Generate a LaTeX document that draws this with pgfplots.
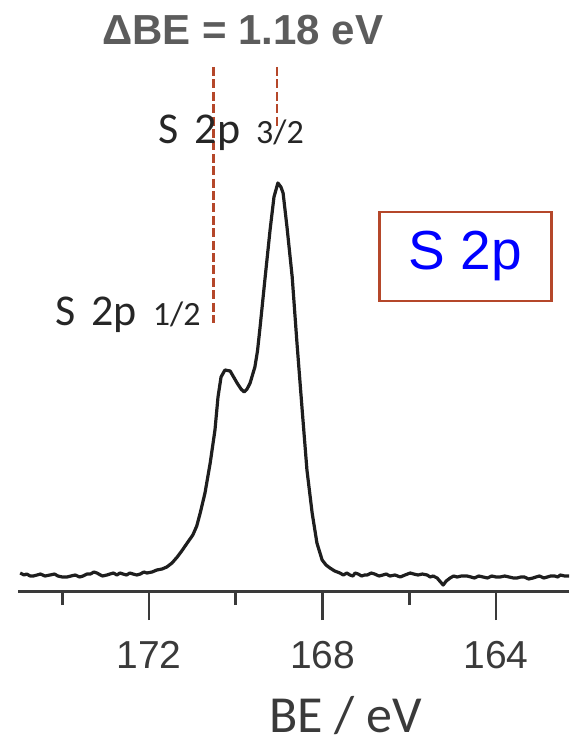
\documentclass[border=0pt]{standalone}
\usepackage{pgfplots}
\pgfplotsset{compat=1.18}
\usepackage{fontspec}
\setmainfont{Liberation Sans}
\newfontfamily\calibri{Carlito}

\definecolor{spectrum}{HTML}{1E1E1E}
\definecolor{axisgray}{HTML}{3A3A3A}
\definecolor{rust}{HTML}{B5472A}
\definecolor{deltagray}{HTML}{5C5C5C}

% S 2p spectrum: binding energy (eV) vs. intensity (a.u.)
\pgfplotstableread{
be      I
174.97  18
174.88  16
174.82  17
174.74  15
174.67  15
174.58  16
174.50  17
174.40  15
174.28  16
174.18  17
174.10  15
174.00  14
173.89  14
173.80  15
173.70  16
173.60  14
173.52  15
173.43  17
173.35  17
173.27  19
173.20  18
173.12  16
173.07  15
172.97  16
172.90  17
172.82  18
172.74  16
172.67  18
172.60  17
172.52  16
172.44  18
172.37  17
172.28  16
172.20  17
172.12  19
172.05  18
171.93  19
171.82  21
171.70  22
171.59  24
171.47  28
171.35  34
171.23  41
171.12  48
170.99  56
170.90  65
170.82  78
170.71  98
170.59  128
170.48  161
170.41  194
170.34  214
170.25  221
170.13  220
170.05  214
169.97  208
169.88  202
169.81  199
169.74  202
169.67  208
169.56  224
169.50  240
169.44  264
169.33  311
169.21  361
169.12  394
169.03  408
168.96  404
168.91  398
168.82  364
168.70  314
168.59  248
168.47  181
168.36  121
168.24  78
168.13  48
168.01  31
167.92  26
167.83  23
167.72  20
167.60  18
167.52  16
167.44  18
167.37  16
167.30  15
167.25  18
167.18  17
167.10  15
167.03  16
166.97  16
166.88  18
166.80  17
166.70  15
166.61  16
166.53  17
166.45  15
166.33  16
166.21  14
166.10  16
165.98  18
165.90  17
165.80  16
165.70  17
165.59  16
165.52  14
165.45  15
165.36  13
165.28  9
165.22  6
165.15  10
165.06  13
164.98  15
164.90  14
164.80  15
164.67  15
164.58  14
164.50  13
164.40  15
164.30  14
164.20  13
164.10  15
164.00  14
163.91  14
163.80  15
163.70  14
163.60  13
163.52  13
163.43  14
163.35  14
163.25  12
163.15  13
163.08  14
163.00  15
162.90  13
162.82  14
162.74  15
162.65  15
162.58  14
162.52  16
162.42  15
162.32  15
}\spectrum

\begin{document}
\begin{tikzpicture}
\begin{axis}[
  scale only axis,
  width=275.5pt, height=295.5pt,
  xmin=162.32, xmax=175.02,
  ymin=0, ymax=591,
  x dir=reverse,
  axis x line*=bottom,
  axis y line=none,
  axis line style={axisgray, line width=1.5pt},
  xtick={172,168,164},
  minor xtick={174,170,166},
  tick align=outside,
  major tick length=14.5pt,
  minor tick length=7pt,
  every tick/.style={axisgray, line width=1.3pt},
  xticklabel style={font=\fontsize{19.5}{20}\selectfont, text=axisgray, yshift=-7pt},
  /pgf/number format/assume math mode=true,
  /pgf/number format/set thousands separator={},
  xlabel={\calibri\fontsize{26}{28}\selectfont BE / eV},
  xlabel style={text=axisgray, xshift=26pt, yshift=-7pt},
  clip=false,
]
  % spectrum trace
  \addplot[spectrum, line width=1.6pt, line join=round] table[x=be, y=I] {\spectrum};

  % peak markers
  \addplot[rust, line width=1.4pt, dash pattern=on 4.5pt off 1.7pt] coordinates {(170.52,524) (170.52,268)};
  \addplot[rust, line width=1.4pt, dash pattern=on 4.5pt off 1.7pt] coordinates {(169.05,524) (169.05,464)};

  % annotations
  \node[anchor=base, font=\bfseries\fontsize{21}{22}\selectfont, text=deltagray, inner sep=0pt]
    at (axis cs:169.84,546) {ΔBE = 1.18 eV};
  \node[anchor=base west, inner sep=0pt, text=black!85]
    at (axis cs:171.79,447) {\calibri\fontsize{22}{24}\selectfont S\hspace{8pt}2p\hspace{8pt}{\fontsize{17}{18}\selectfont 3/2}};
  \node[anchor=base west, inner sep=0pt, text=black!85]
    at (axis cs:174.17,266) {\calibri\fontsize{22}{24}\selectfont S\hspace{8pt}2p\hspace{8pt}{\fontsize{17}{18}\selectfont 1/2}};
  \node[draw=rust, line width=1.2pt, fill=white, minimum width=86pt, minimum height=44.5pt,
        text=blue, font=\fontsize{27.5}{29}\selectfont, inner sep=0pt]
    at (axis cs:164.71,334.5) {S 2p};
\end{axis}
\pgfresetboundingbox
\path (-9pt,-77pt) rectangle (275.5pt,295.5pt);
\end{tikzpicture}
\end{document}
